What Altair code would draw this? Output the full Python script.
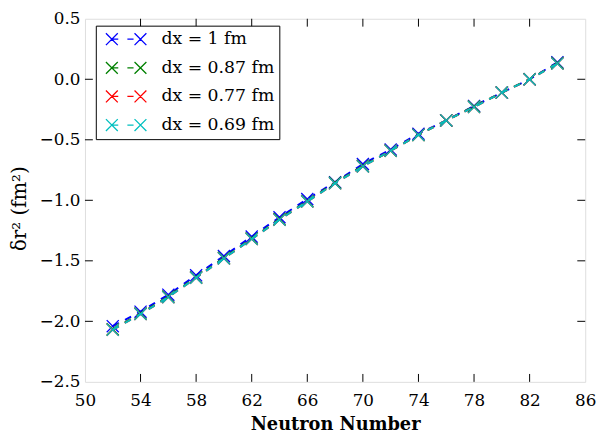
import altair as alt
import pandas as pd

neutrons = [52, 54, 56, 58, 60, 62, 64, 66, 68, 70, 72, 74, 76, 78, 80, 82, 84]
dr2_dx100 = [-2.04, -1.92, -1.78, -1.62, -1.46, -1.30, -1.14, -0.99, -0.85, -0.70, -0.58, -0.45, -0.34, -0.22, -0.11, 0.00, 0.14]
dr2_dx087 = [-2.065, -1.935, -1.795, -1.635, -1.475, -1.315, -1.155, -1.005, -0.855, -0.715, -0.59, -0.46, -0.34, -0.225, -0.11, 0.00, 0.135]
dr2_dx077 = [-2.07, -1.94, -1.80, -1.64, -1.48, -1.32, -1.16, -1.01, -0.86, -0.72, -0.59, -0.46, -0.34, -0.23, -0.11, 0.00, 0.13]
dr2_dx069 = [-2.07, -1.94, -1.80, -1.64, -1.48, -1.32, -1.16, -1.01, -0.86, -0.72, -0.59, -0.46, -0.34, -0.23, -0.11, 0.00, 0.13]

series_labels = ["dx = 1 fm", "dx = 0.87 fm", "dx = 0.77 fm", "dx = 0.69 fm"]
series_colors = ["#0000ff", "#008000", "#ff0000", "#00bfbf"]
series_values = [dr2_dx100, dr2_dx087, dr2_dx077, dr2_dx069]

x_ticks = [50, 54, 58, 62, 66, 70, 74, 78, 82, 86]
y_ticks = [-2.5, -2.0, -1.5, -1.0, -0.5, 0.0, 0.5]

rows = []
for k, (lab, vals) in enumerate(zip(series_labels, series_values)):
    for n, v in zip(neutrons, vals):
        rows.append({"N": n, "dr2": v, "series": lab, "k": k})
df = pd.DataFrame(rows)

W, H = 507, 368
FONT = "DejaVu Serif"

xscale = alt.Scale(domain=[50, 86], nice=False, zero=False)
yscale = alt.Scale(domain=[-2.5, 0.5], nice=False, zero=False)

legend_path = ("M-4.1,-1.2L-1.7,1.2M-4.1,1.2L-1.7,-1.2M-2.9,0L-1.6,0"
               "M0.25,0L1.5,0M1.7,-1.2L4.1,1.2M1.7,1.2L4.1,-1.2")

legend = alt.Legend(
    title=None, orient="none", legendX=11, legendY=7,
    strokeColor="black", fillColor="white", padding=5, cornerRadius=0,
    symbolType=legend_path, symbolSize=100, symbolStrokeWidth=1.3,
    symbolFillColor="transparent", symbolOffset=17, labelOffset=27,
    labelFont=FONT, labelFontSize=17.5, labelColor="black", rowPadding=10,
)
color = alt.Color("series:N", sort=series_labels,
                  scale=alt.Scale(domain=series_labels, range=series_colors),
                  legend=legend)

x_axis = alt.Axis(values=x_ticks, ticks=False, domain=False, grid=False,
                  labelFont=FONT, labelFontSize=17, labelColor="black",
                  labelPadding=11, title="Neutron Number", titleFont=FONT,
                  titleFontSize=18, titleFontWeight="bold", titleColor="black",
                  titlePadding=7, labelFlush=False)
y_axis = alt.Axis(values=y_ticks, format=".1f", ticks=False, domain=False, grid=False,
                  labelFont=FONT, labelFontSize=17, labelColor="black",
                  labelPadding=5, title="δr² (fm²)", titleFont=FONT,
                  titleFontSize=20, titleFontWeight="normal", titleColor="black",
                  titlePadding=10, titleY=192, labelFlush=False)

layers = []
for k, lab in enumerate(series_labels):
    sub = alt.Chart(df).transform_filter(alt.datum.k == k)
    ln = sub.mark_line(strokeDash=[7, 7], strokeWidth=2).encode(
        x=alt.X("N:Q", scale=xscale, axis=x_axis),
        y=alt.Y("dr2:Q", scale=yscale, axis=y_axis),
        color=color,
        order=alt.Order("N:Q"),
    )
    pt = sub.mark_point(shape="M-1,-1L1,1M-1,1L1,-1", filled=False, size=150,
                        strokeWidth=1.3, opacity=1).encode(
        x=alt.X("N:Q", scale=xscale, axis=x_axis),
        y=alt.Y("dr2:Q", scale=yscale, axis=y_axis),
        color=color,
    )
    layers += [ln, pt]

xt = pd.DataFrame({"t": x_ticks[1:-1]})
yt = pd.DataFrame({"t": y_ticks[1:-1]})
tick_len = 8
bottom_ticks = alt.Chart(xt).mark_rule(color="black", strokeWidth=1).encode(
    x=alt.X("t:Q", scale=xscale), y=alt.value(H), y2=alt.value(H - tick_len))
top_ticks = alt.Chart(xt).mark_rule(color="black", strokeWidth=1).encode(
    x=alt.X("t:Q", scale=xscale), y=alt.value(0), y2=alt.value(tick_len))
left_ticks = alt.Chart(yt).mark_rule(color="black", strokeWidth=1).encode(
    y=alt.Y("t:Q", scale=yscale), x=alt.value(0), x2=alt.value(tick_len))
right_ticks = alt.Chart(yt).mark_rule(color="black", strokeWidth=1).encode(
    y=alt.Y("t:Q", scale=yscale), x=alt.value(W), x2=alt.value(W - tick_len))

chart = alt.layer(*layers, bottom_ticks, top_ticks, left_ticks, right_ticks).properties(
    width=W, height=H,
    autosize=alt.AutoSizeParams(type="none"),
    padding={"left": 78, "top": 8, "right": 15, "bottom": 54},
).configure_view(stroke="black", strokeWidth=1.2).configure(background="white")

chart.save("out.html", embed_options={"renderer": "svg", "actions": False})
